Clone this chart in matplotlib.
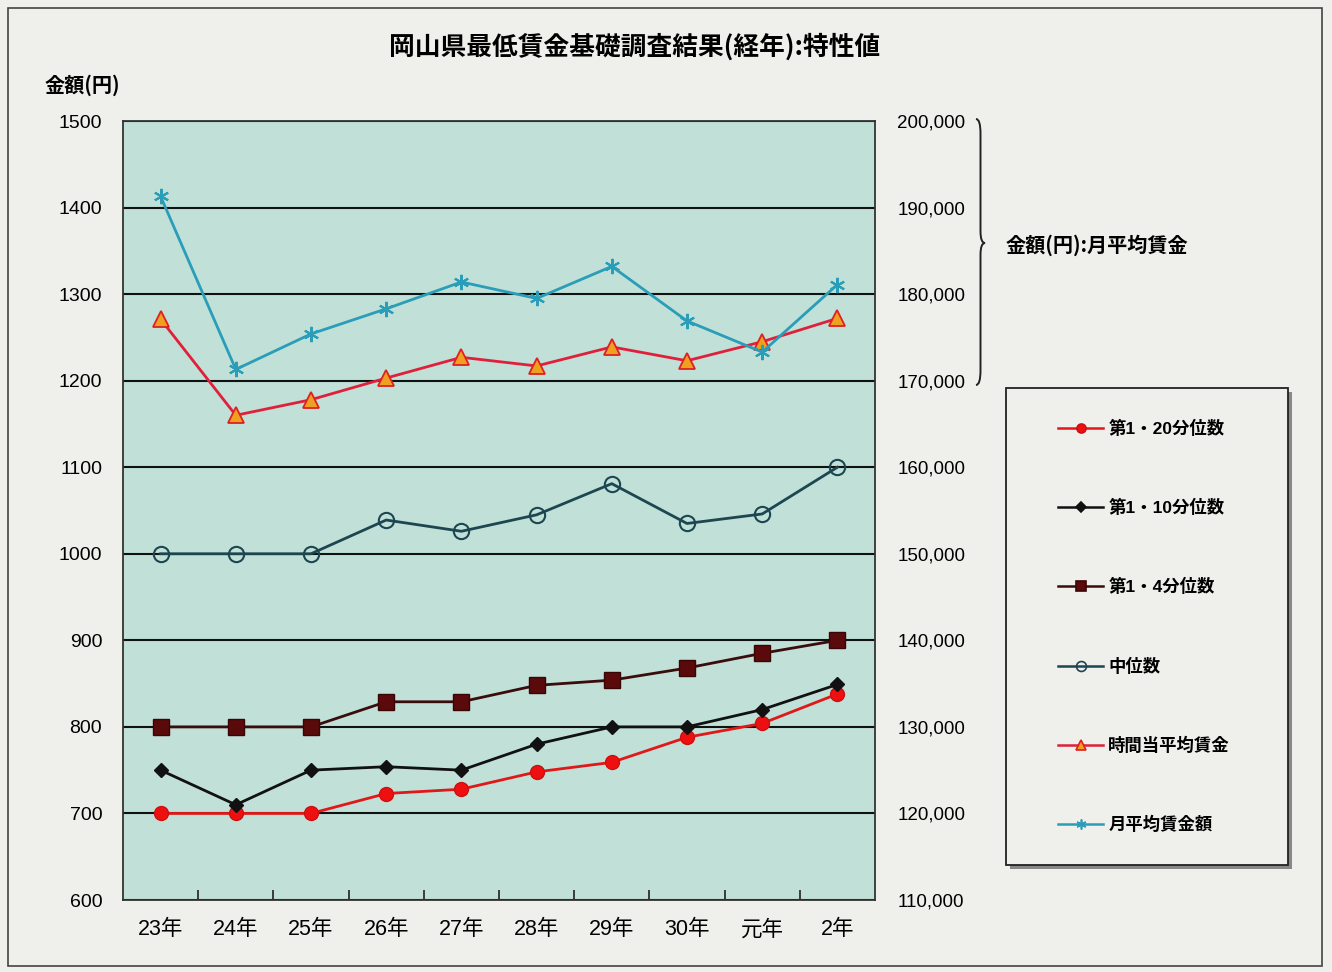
import numpy as np
import matplotlib
matplotlib.use("Agg")
import matplotlib.pyplot as plt
from matplotlib.path import Path
from matplotlib.patches import PathPatch, Rectangle
from matplotlib.lines import Line2D

plt.rcParams['font.family'] = ['Liberation Sans', 'Noto Sans CJK JP', 'DejaVu Sans']

years = ['23年', '24年', '25年', '26年', '27年', '28年', '29年', '30年', '元年', '2年']

# hourly values (left axis, yen)
p20 = [700, 700, 700, 723, 728, 748, 759, 788, 804, 838]
p10 = [750, 710, 750, 754, 750, 780, 800, 800, 820, 849]
p4 = [800, 800, 800, 829, 829, 848, 854, 868, 885, 900]
median = [1000, 1000, 1000, 1039, 1026, 1045, 1081, 1035, 1046, 1100]
hourly_avg = [1271, 1160, 1178, 1203, 1227, 1217, 1239, 1223, 1245, 1272]
# monthly average wage (right axis, yen)
monthly_avg = [191300, 171300, 175400, 178300, 181400, 179500, 183200, 176900, 173300, 181100]

bg = '#efefeb'
plot_bg = '#c0e0d8'

fig = plt.figure(figsize=(13.32, 9.72), dpi=100, facecolor=bg)
W, H = 1332, 972

def fx(px):
    return px / W

def fy(py):
    return 1 - py / H

ax = fig.add_axes([fx(123), fy(900), fx(875) - fx(123), fy(121) - fy(900)])
ax.set_facecolor(plot_bg)
x = np.arange(len(years))

ax.plot(x, p20, color='#e01818', lw=2, marker='o', ms=10, mfc='#ee1010', mec='#cc1010', label='第1・20分位数', zorder=5)
ax.plot(x, p10, color='#111111', lw=2, marker='D', ms=7.5, mfc='#111111', mec='#111111', label='第1・10分位数', zorder=5)
ax.plot(x, p4, color='#3a0c0c', lw=2, marker='s', ms=11, mfc='#5a0a0a', mec='#3a0505', label='第1・4分位数', zorder=5)
ax.plot(x, median, color='#1d4650', lw=2, marker='o', ms=11, mfc='none', mec='#1d4650', mew=1.5, label='中位数', zorder=5)
ax.plot(x, hourly_avg, color='#e0203a', lw=2, marker='^', ms=11, mfc='#f0a020', mec='#e02020', mew=1.3, label='時間当平均賃金', zorder=5)

ax.set_xlim(-0.5, len(years) - 0.5)
ax.set_ylim(600, 1500)
ax.set_yticks(np.arange(600, 1501, 100))
ax.grid(axis='y', color='#111111', lw=1.5)
ax.set_axisbelow(True)
ax.set_xticks(x, years)
ax.set_xticks(np.arange(0.5, len(years) - 1, 1), minor=True)
ax.tick_params(axis='x', which='major', length=0, pad=14, labelsize=15.5)
ax.tick_params(axis='x', which='minor', direction='in', length=7, width=1.2, color='#222222')
ax.tick_params(axis='y', length=0, pad=15, labelsize=14)
for s in ax.spines.values():
    s.set_color('#333333')
    s.set_linewidth(1.3)

ax2 = ax.twinx()
ax2.plot(x, monthly_avg, color='#2a9db8', lw=2, marker=(6, 2, 0), ms=11, mec='#2a9db8', mew=1.5, label='月平均賃金額', zorder=5)
ax2.set_ylim(110000, 200000)
ax2.set_yticks(np.arange(110000, 200001, 10000))
ax2.set_yticklabels([f'{v:,}' for v in range(110000, 200001, 10000)])
ax2.tick_params(axis='y', length=0, pad=16, labelsize=13.5)
for s in ax2.spines.values():
    s.set_visible(False)

# titles
fig.text(fx(635), fy(47), '岡山県最低賃金基礎調査結果(経年):特性値', ha='center', va='center',
         fontsize=18.5, fontweight='bold', family=['Noto Sans CJK JP'])
fig.text(fx(45), fy(85), '金額(円)', ha='left', va='center', fontsize=14.5, fontweight='bold',
         family=['Noto Sans CJK JP'])
fig.text(fx(1006), fy(245), '金額(円):月平均賃金', ha='left', va='center', fontsize=14.5, fontweight='bold',
         family=['Noto Sans CJK JP'])

# brace for right axis range
x0, x1 = fx(976), fx(985)
xm = x0 + (x1 - x0) * 0.5
yt, ym, yb = fy(119), fy(243), fy(385)
codes = [Path.MOVETO, Path.CURVE3, Path.CURVE3, Path.LINETO,
         Path.CURVE3, Path.CURVE3,
         Path.CURVE3, Path.CURVE3, Path.LINETO,
         Path.CURVE3, Path.CURVE3]
verts = [(x0, yt), (xm, yt), (xm, yt - 0.015), (xm, ym + 0.012),
         (xm, ym), (x1, ym),
         (xm, ym), (xm, ym - 0.012), (xm, yb + 0.015),
         (xm, yb), (x0, yb)]
fig.add_artist(PathPatch(Path(verts, codes), transform=fig.transFigure, fill=False, lw=1.4, ec='#222222'))

# legend box with shadow
bx0, bx1, by0, by1 = 1006, 1288, 388, 865
fig.add_artist(Rectangle((fx(bx0 + 4), fy(by1 + 4)), fx(bx1) - fx(bx0), fy(by0) - fy(by1),
                         transform=fig.transFigure, fc='#888888', ec='none', zorder=1))
fig.add_artist(Rectangle((fx(bx0), fy(by1)), fx(bx1) - fx(bx0), fy(by0) - fy(by1),
                         transform=fig.transFigure, fc=bg, ec='#222222', lw=1.3, zorder=2))

h1, l1 = ax.get_legend_handles_labels()
h2, l2 = ax2.get_legend_handles_labels()
handles = []
for h in h1 + h2:
    handles.append(Line2D([], [], color=h.get_color(), lw=1.8, marker=h.get_marker(),
                          ms=h.get_markersize() * 0.65, mfc=h.get_markerfacecolor(),
                          mec=h.get_markeredgecolor(), mew=1.2))
leg = fig.legend(handles, l1 + l2, loc='upper left', bbox_to_anchor=(fx(1058), fy(420)),
                 bbox_transform=fig.transFigure, frameon=False, borderpad=0, labelspacing=3.57,
                 handlelength=2.6, handletextpad=0.3, borderaxespad=0,
                 prop={'family': ['Liberation Sans', 'Noto Sans CJK JP'], 'size': 12.5, 'weight': 'bold'})
leg.set_zorder(3)

# outer frame
fig.add_artist(Rectangle((fx(8), fy(966)), fx(1322) - fx(8), fy(8) - fy(966), transform=fig.transFigure,
                         fill=False, lw=1.2, ec='#444444'))

fig.savefig('out.png', dpi=100, facecolor=bg)
